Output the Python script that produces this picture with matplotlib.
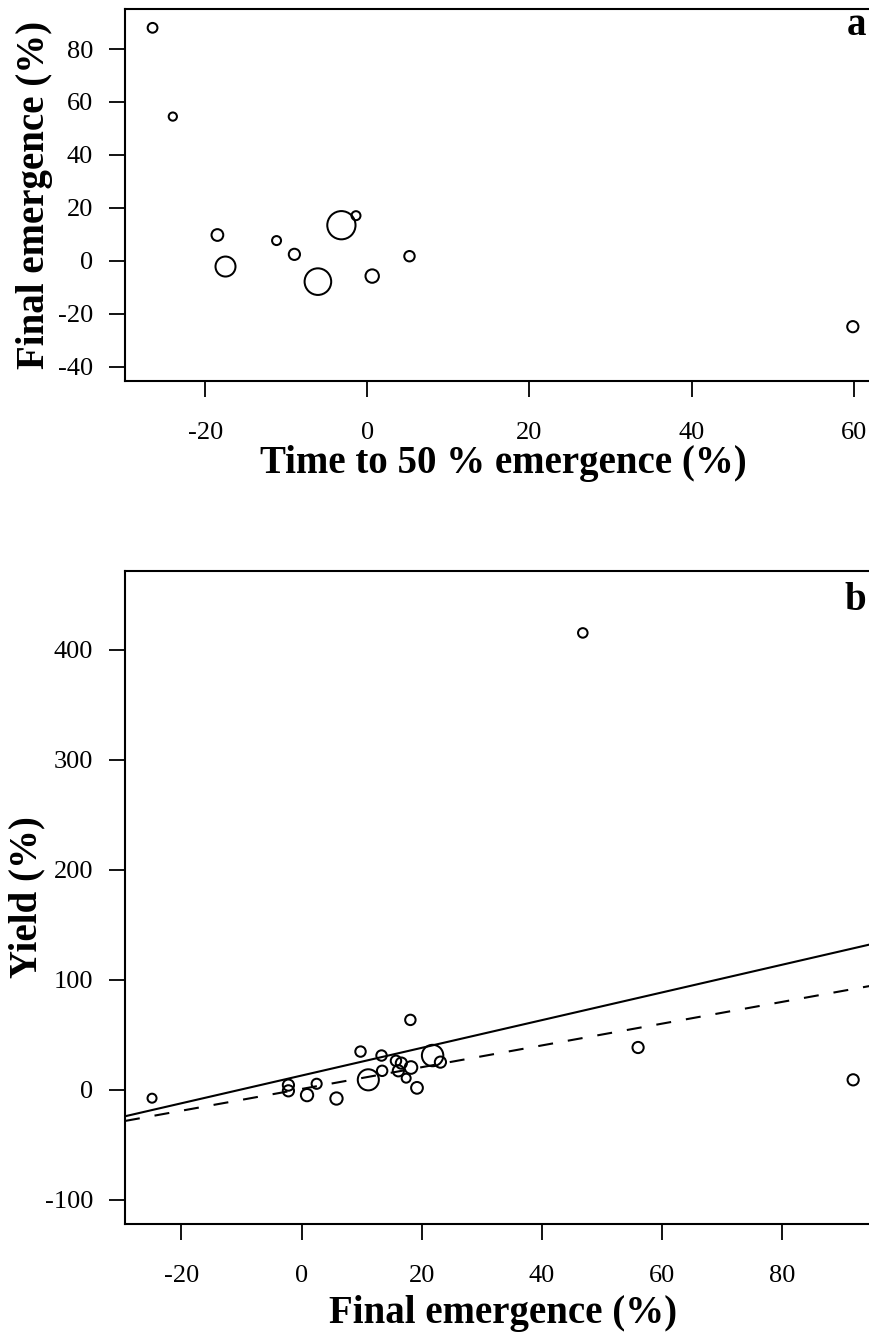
import matplotlib
matplotlib.use('Agg')
import matplotlib.pyplot as plt

plt.rcParams['font.family'] = ['Liberation Serif', 'DejaVu Serif']
plt.rcParams['axes.unicode_minus'] = False

# ---------------- data ----------------
# Panel a: time to 50 % emergence vs final emergence (bubble weight)
time50_a = [-26.5, -24.0, -18.5, -17.5, -11.2, -9.0, -6.1, -3.2, -1.4, 0.6, 5.2, 59.9]
final_a = [88.0, 54.5, 9.8, -2.1, 7.7, 2.5, -7.8, 13.5, 17.1, -5.7, 1.8, -24.8]
weight_a = [1.07, 0.93, 1.25, 2.0, 1.0, 1.2, 2.6, 2.75, 1.0, 1.4, 1.13, 1.2]

# Panel b: final emergence vs yield (bubble weight)
final_b = [-24.9, -2.2, -2.2, 0.9, 2.5, 5.8, 9.8, 11.1, 13.3, 13.4, 15.7, 16.6,
           16.1, 18.2, 17.4, 19.2, 18.1, 21.8, 23.1, 56.0, 91.8, 46.8]
yield_b = [-7.6, 4.3, -0.9, -4.8, 5.5, -7.9, 34.8, 9.1, 31.2, 17.3, 26.4, 24.3,
           17.3, 20.3, 10.6, 1.8, 63.6, 31.2, 25.2, 38.5, 9.1, 415.5]
weight_b = [1.0, 1.2, 1.2, 1.3, 1.1, 1.3, 1.13, 2.1, 1.13, 1.13, 1.13, 1.2,
            1.2, 1.33, 1.0, 1.25, 1.13, 2.13, 1.2, 1.2, 1.2, 1.05]

# regression lines in panel b: (intercept, slope)
fit_solid = (13.0, 1.26)
fit_dashed = (0.8, 0.99)

xticks_a = [-20, 0, 20, 40, 60]
yticks_a = [-40, -20, 0, 20, 40, 60, 80]
xticks_b = [-20, 0, 20, 40, 60, 80]
yticks_b = [-100, 0, 100, 200, 300, 400]

# ---------------- layout ----------------
W, H = 869, 1333
DPI = 100
fig = plt.figure(figsize=(W / DPI, H / DPI), dpi=DPI)


def px_axes(l, t, r, b):
    return [l / W, 1 - b / H, (r - l) / W, (b - t) / H]


axA = fig.add_axes(px_axes(125, 9, 882, 381))
axB = fig.add_axes(px_axes(125, 571, 882, 1224))

PT = 72.0 / DPI  # points per pixel


def sizes(weights):
    # weight 1 -> ~11 px outer diameter
    return [((w * 11.0 - 2.0) * PT) ** 2 for w in weights]


def style(ax, xt, yt, xlim, ylim):
    ax.set_xlim(*xlim)
    ax.set_ylim(*ylim)
    ax.set_xticks(xt)
    ax.set_yticks(yt)
    ax.set_xticklabels([str(v) for v in xt])
    ax.set_yticklabels([str(v) for v in yt])
    for s in ax.spines.values():
        s.set_linewidth(1.5)
    ax.tick_params(axis='both', direction='out', length=11.5, width=1.3,
                   labelsize=19)
    ax.tick_params(axis='x', pad=18)
    ax.tick_params(axis='y', pad=11.5)


# Panel a
axA.scatter(time50_a, final_a, s=sizes(weight_a), facecolors='none',
            edgecolors='black', linewidths=1.45, zorder=3)
style(axA, xticks_a, yticks_a, (-29.9, 63.5), (-45.3, 95.1))
axA.set_xlabel('Time to 50 % emergence (%)', fontsize=28, fontweight='bold')
axA.set_ylabel('Final emergence (%)', fontsize=28, fontweight='bold')
axA.xaxis.set_label_coords(0.5, (381 - 463) / 372)
axA.xaxis.label.set_va('center')
axA.yaxis.set_label_coords((35 - 125) / 757, 0.5)
axA.yaxis.label.set_va('center')
axA.text((866 - 125) / 757, 1 - (35 - 9) / 372, 'a', transform=axA.transAxes,
         ha='right', va='baseline', fontsize=28, fontweight='bold')

# Panel b
axB.scatter(final_b, yield_b, s=sizes(weight_b), facecolors='none',
            edgecolors='black', linewidths=1.45, zorder=3)
axB.axline((0, fit_solid[0]), slope=fit_solid[1], color='black', lw=1.5)
axB.axline((0, fit_dashed[0]), slope=fit_dashed[1], color='black', lw=1.5,
           linestyle=(0, (7.2, 7.2)))
style(axB, xticks_b, yticks_b, (-29.4, 96.6), (-122, 471.8))
axB.set_xlabel('Final emergence (%)', fontsize=28, fontweight='bold')
axB.set_ylabel('Yield (%)', fontsize=28, fontweight='bold')
axB.xaxis.set_label_coords(0.5, (1224 - 1313) / 653)
axB.xaxis.label.set_va('center')
axB.yaxis.set_label_coords((27 - 125) / 757, 0.5)
axB.yaxis.label.set_va('center')
axB.text((866 - 125) / 757, 1 - (610 - 571) / 653, 'b', transform=axB.transAxes,
         ha='right', va='baseline', fontsize=28, fontweight='bold')

fig.savefig('out.png', dpi=DPI)
